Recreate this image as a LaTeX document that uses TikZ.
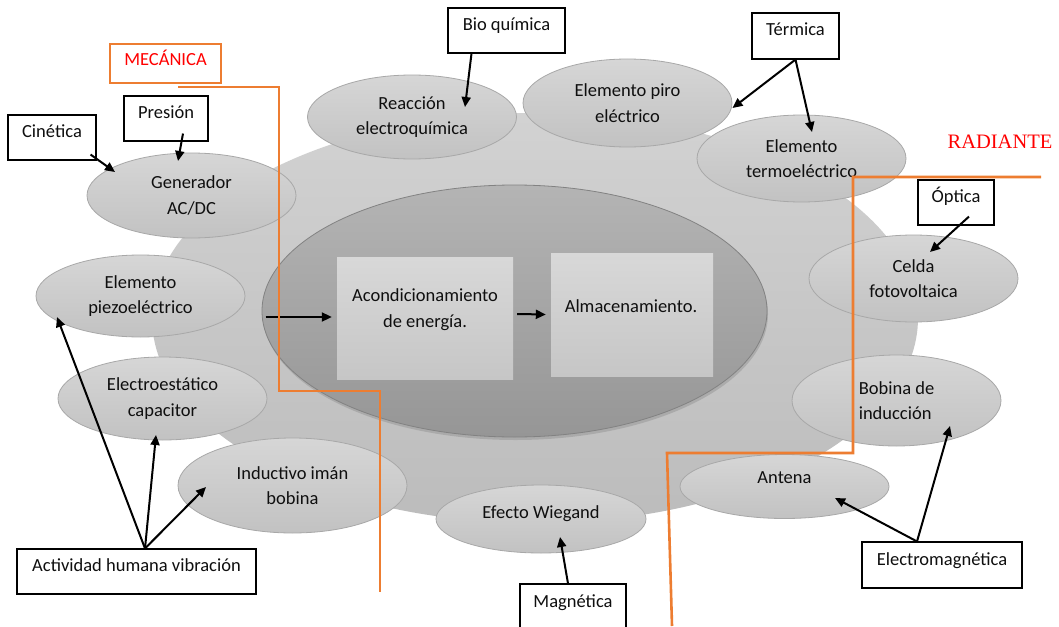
\documentclass[tikz,border=0pt]{standalone}
\usepackage{fontspec}
\setmainfont{Carlito}
\newfontfamily\titleserif{Liberation Serif}
\usetikzlibrary{shapes.geometric,arrows.meta,shadows,calc}

\definecolor{seam}{RGB}{237,125,49}
\definecolor{tagred}{RGB}{255,0,0}
\definecolor{inktext}{RGB}{15,15,15}
\definecolor{bubtop}{RGB}{214,214,214}
\definecolor{bubbot}{RGB}{194,194,194}
\definecolor{bubrim}{RGB}{168,168,168}
\definecolor{basetop}{RGB}{210,210,210}
\definecolor{basebot}{RGB}{188,188,188}
\definecolor{coretop}{RGB}{180,180,180}
\definecolor{corebot}{RGB}{150,150,150}
\definecolor{corerim}{RGB}{130,130,130}
\definecolor{paneltop}{RGB}{216,216,216}
\definecolor{panelbot}{RGB}{198,198,198}

\begin{document}
\begin{tikzpicture}[x=1pt,y=-1pt,
  every node/.style={font=\fontsize{18.5pt}{25.5pt}\selectfont, text=inktext},
  bubble/.style={ellipse, draw=bubrim, line width=0.8pt, top color=bubtop,
    bottom color=bubbot, align=center, inner sep=0pt},
  panel/.style={rectangle, top color=paneltop, bottom color=panelbot,
    inner sep=0pt},
  tag/.style={rectangle, draw=black, line width=1.1pt, fill=white,
    inner sep=0pt, text height=13pt, text depth=13pt},
  arr/.style={-{Triangle[length=10pt,width=9pt]}, line width=2pt, black},
  seamline/.style={draw=seam, line width=2.6pt}]

\clip (0,0) rectangle (1059,626);
\fill[white] (0,0) rectangle (1059,626);

% platform and central core
\node[ellipse, top color=basetop, bottom color=basebot, minimum width=766pt,
  minimum height=410pt, inner sep=0pt] (base) at (535,318) {};
\node[ellipse, top color=coretop, bottom color=corebot, draw=corerim,
  line width=0.8pt, minimum width=505pt, minimum height=252pt, inner sep=0pt,
  drop shadow={shadow xshift=1pt, shadow yshift=-3pt, opacity=0.35}]
  (core) at (514.5,311) {};

\node[panel, minimum width=176pt, minimum height=122pt] (acond) at (425,318) {};
\node[panel, minimum width=162pt, minimum height=123pt] (alm) at (632,314.5) {};
\node[align=center] (acondT) at (425,309.5) {Acondicionamiento\\de energía.};
\node (almT) at (631,306) {Almacenamiento.};

\draw[arr] ($(core.west)+(4,6)$) -- ($(acond.west)+(-5,-1)$);
\draw[arr] ($(acond.east)+(4,-4)$) -- ($(alm.west)+(-5,0)$);

% transducers around the core
\node[bubble, minimum width=209pt, minimum height=84pt] (reac) at (412,117) {Reacción\\electroquímica};
\node[bubble, minimum width=209pt, minimum height=88pt] (piro) at (627.5,103) {Elemento piro\\eléctrico};
\node[bubble, minimum width=209pt, minimum height=87pt] (termo) at (801.5,158.5) {Elemento\\termoeléctrico};
\node[bubble, minimum width=209pt, minimum height=85pt] (gen) at (191.5,195.5) {Generador\\AC/DC};
\node[bubble, minimum width=209pt, minimum height=82pt] (piezo) at (140.5,296) {Elemento\\piezoeléctrico};
\node[bubble, minimum width=209pt, minimum height=83pt] (cap) at (162.5,398.5) {Electroestático\\capacitor};
\node[bubble, minimum width=229pt, minimum height=95pt] (ind) at (292.5,485.5) {Inductivo imán\\bobina};
\node[bubble, minimum width=210pt, minimum height=68pt, text height=12pt, text depth=14pt] (wieg) at (541,519) {Efecto Wiegand};
\node[bubble, minimum width=209pt, minimum height=64pt, text height=12pt, text depth=18pt] (ant) at (784.5,486.5) {Antena};
\node[bubble, minimum width=209pt, minimum height=91pt, align=left] (bob) at (896.5,400.5) {Bobina de\\inducción};
\node[bubble, minimum width=209pt, minimum height=87pt] (celda) at (913.5,278.5) {Celda\\fotovoltaica};

% energy domain borders
\draw[seamline] (178,87) -- (279,87) -- (279,391) -- (380,391) -- (380,592);
\draw[seamline] (1041,177) -- (853,177) -- (853,453) -- (667,453) -- (672,626);

\node[draw=seam, line width=1.2pt, minimum width=111pt, minimum height=39pt,
  inner sep=0pt, text=tagred, text height=13pt, text depth=9pt] (mec) at (165.5,63.5) {MECÁNICA};
\node[text=tagred, font=\titleserif\fontsize{20.5pt}{24pt}\selectfont] (rad) at (1000,142) {RADIANTE};

% energy sources
\node[tag, minimum width=117pt, minimum height=45pt] (bio) at (506.5,30.5) {Bio química};
\node[tag, minimum width=87pt, minimum height=46pt] (term) at (795.5,36) {Térmica};
\node[tag, minimum width=84pt, minimum height=45pt] (pres) at (166,118.5) {Presión};
\node[tag, minimum width=88pt, minimum height=45pt] (cin) at (52,137.5) {Cinética};
\node[tag, minimum width=76pt, minimum height=45pt] (opt) at (956,202.5) {Óptica};
\node[tag, minimum width=239pt, minimum height=45pt] (act) at (136.5,571.5) {Actividad humana vibración};
\node[tag, minimum width=160pt, minimum height=46pt] (emag) at (942,565) {Electromagnética};
\node[tag, minimum width=106pt, minimum height=46pt] (mag) at (573,607) {Magnética};

% source to transducer links
\draw[arr] ($(bio.south)+(-35,0)$) -- ($(reac)+(53,-10)$);
\draw[arr] (term.south) -- ($(piro)+(105,5)$);
\draw[arr] (term.south) -- ($(termo)+(10.5,-26.5)$);
\draw[arr] ($(pres.south)+(17,-8)$) -- ($(gen)+(-13.5,-34.5)$);
\draw[arr] ($(cin.south east)+(-6,-6)$) -- ($(gen)+(-76.5,-23.5)$);
\draw[arr] ($(opt.south)+(13,-9)$) -- ($(celda)+(16.5,-26.5)$);
\draw[arr] ($(act.north)+(8.5,0)$) -- ($(piezo)+(-83.5,21)$);
\draw[arr] ($(act.north)+(8.5,0)$) -- ($(cap)+(-6.5,36.5)$);
\draw[arr] ($(act.north)+(8.5,0)$) -- ($(ind)+(-86.5,1.5)$);
\draw[arr] ($(mag.north)+(-5,0)$) -- ($(wieg)+(19,18)$);
\draw[arr] ($(emag.north)+(-25,0)$) -- ($(ant)+(50.5,11.5)$);
\draw[arr] ($(emag.north)+(-25,0)$) -- ($(bob)+(53.5,25.5)$);
\end{tikzpicture}
\end{document}
